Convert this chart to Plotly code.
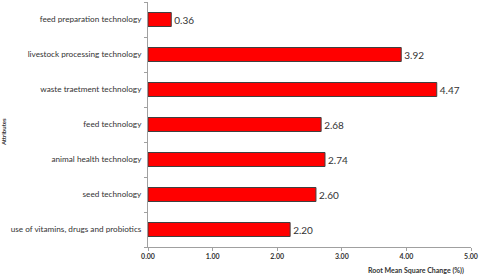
import plotly.graph_objects as go

categories = [
    "use of vitamins, drugs and probiotics",
    "seed technology",
    "animal health technology",
    "feed technology",
    "waste traetment technology",
    "livestock processing technology",
    "feed preparation technology",
]
values = [2.20, 2.60, 2.74, 2.68, 4.47, 3.92, 0.36]
x_ticks = [0, 1, 2, 3, 4, 5]
x_tick_labels = ["0.00", "1.00", "2.00", "3.00", "4.00", "5.00"]

fig = go.Figure(go.Bar(
    y=categories, x=values, orientation="h",
    marker=dict(color="#ff0000", line=dict(color="#404040", width=1)),
    text=[f"{v:.2f}" for v in values], textposition="outside",
    textfont=dict(family="Lato", size=10, color="#333333"),
    cliponaxis=False,
))
fig.update_layout(
    width=480, height=276,
    margin=dict(l=148, r=9, t=2, b=29),
    paper_bgcolor="white", plot_bgcolor="white",
    bargap=0.6, showlegend=False,
    font=dict(family="Lato", size=8, color="#333333"),
)
fig.update_xaxes(
    range=[0, 5], tickvals=x_ticks, ticktext=x_tick_labels, automargin=False,
    showgrid=False, zeroline=False, showline=True, linecolor="#a0a0a0",
    ticks="outside", ticklen=3, tickcolor="#a0a0a0",
    tickfont=dict(family="Lato", size=7, color="#333333", weight="bold"),
)
fig.update_yaxes(
    showgrid=False, showline=True, linecolor="#a0a0a0", automargin=False,
    ticks="outside", ticklen=3, tickcolor="#a0a0a0", tickson="boundaries",
    ticklabelstandoff=4,
    tickfont=dict(family="Lato", size=8.2, color="#333333"),
)
fig.add_annotation(text="<b>Root Mean Square Change (%))</b>", xref="paper", yref="paper",
                   x=0.985, y=-0.07, xanchor="right", yanchor="top", showarrow=False,
                   font=dict(family="Lato", size=7, color="#333333"))
fig.add_annotation(text="<b>Attributes</b>", xref="paper", yref="paper",
                   x=-0.445, xanchor="center", y=0.47, yanchor="middle", textangle=-90,
                   showarrow=False, font=dict(family="Lato", size=6, color="#333333"))
fig.write_html("out.html", post_script="document.body.style.margin='0';",
               config={"displayModeBar": False})
